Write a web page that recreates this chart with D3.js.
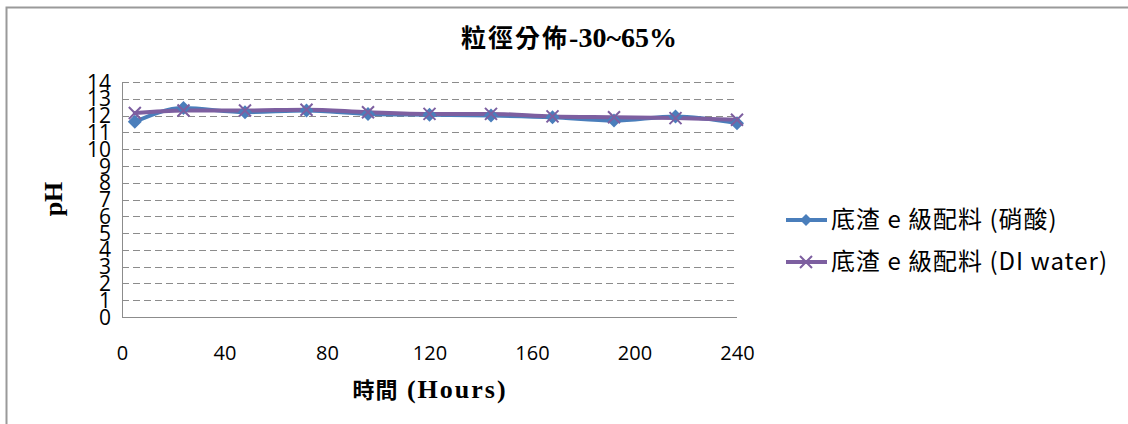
<!DOCTYPE html>
<html><head><meta charset="utf-8">
<script src="https://cdn.jsdelivr.net/npm/d3@7"></script>
<style>body{margin:0;background:#fff}svg{display:block}</style>
</head><body>
<script>
const hours = [5, 24, 48, 72, 96, 120, 144, 168, 192, 216, 240];
const phNitric = [11.63, 12.45, 12.2, 12.3, 12.1, 12.05, 12.0, 11.9, 11.7, 11.95, 11.55];
const phDI = [12.15, 12.3, 12.3, 12.35, 12.2, 12.1, 12.1, 11.95, 11.9, 11.85, 11.75];
const xTicks = [0, 40, 80, 120, 160, 200, 240];
const yTicks = [0,1,2,3,4,5,6,7,8,9,10,11,12,13,14];
const seriesNames = ["底渣 e 級配料 (硝酸)", "底渣 e 級配料 (DI water)"];
const colors = ["#4A7EBB", "#7D5FA0"];

const W = 1128, H = 424;
const svg = d3.select("body").append("svg").attr("width", W).attr("height", H);

// outer frame
svg.append("path").attr("d", `M6.5,${H} V7.5 H${W}`).attr("fill","none").attr("stroke","#9a9a9a").attr("stroke-width",2);

const x = d3.scaleLinear().domain([0,240]).range([122,737]);
const y = d3.scaleLinear().domain([0,14]).range([317,82]);

// gridlines
svg.append("g").selectAll("line").data(yTicks.filter(d=>d>0)).join("line")
  .attr("x1",122).attr("x2",737).attr("y1",d=>Math.round(y(d))+0.5).attr("y2",d=>Math.round(y(d))+0.5)
  .attr("stroke","#8c8c8c").attr("stroke-width",1).attr("stroke-dasharray","7,4");

// axes lines
svg.append("line").attr("x1",122.5).attr("x2",122.5).attr("y1",82).attr("y2",317).attr("stroke","#8c8c8c");
svg.append("line").attr("x1",122).attr("x2",737).attr("y1",317.5).attr("y2",317.5).attr("stroke","#8c8c8c");

const tickFont = "'Open Sans','Liberation Sans',sans-serif";
// y tick labels
const yAxis = d3.axisLeft(y).tickValues(yTicks).tickSize(0).tickPadding(11);
const gy = svg.append("g").attr("transform","translate(122,0)").call(yAxis);
gy.select(".domain").remove();
gy.selectAll("text").attr("font-family",tickFont).attr("font-size",21).attr("fill","#000").attr("dy","0.34em");

// x tick labels
const xAxis = d3.axisBottom(x).tickValues(xTicks).tickSize(0).tickPadding(29);
const gx = svg.append("g").attr("transform","translate(0,317)").call(xAxis);
gx.select(".domain").remove();
gx.selectAll("text").attr("font-family",tickFont).attr("font-size",20).attr("fill","#000");

// lines
const data = [phNitric, phDI];
const line = d3.line().x((d,i)=>x(hours[i])).y(d=>y(d)).curve(d3.curveMonotoneX);
data.forEach((vals,k)=>{
  svg.append("path").datum(vals).attr("d",line).attr("fill","none")
    .attr("stroke",colors[k]).attr("stroke-width",4).attr("stroke-linejoin","round").attr("stroke-linecap","round");
});
function diamond(g,cx,cy,s,c){
  g.append("path").attr("d",`M${cx},${cy-s} L${cx+s},${cy} L${cx},${cy+s} L${cx-s},${cy} Z`).attr("fill",c);
}
function cross(g,cx,cy,s,c){
  g.append("path").attr("d",`M${cx-s},${cy-s} L${cx+s},${cy+s} M${cx-s},${cy+s} L${cx+s},${cy-s}`)
    .attr("stroke",c).attr("stroke-width",2).attr("fill","none");
}
const mk = svg.append("g");
phNitric.forEach((v,i)=>diamond(mk,x(hours[i]),y(v),7,colors[0]));
phDI.forEach((v,i)=>cross(mk,x(hours[i]),y(v),6,colors[1]));

// title
const t = svg.append("text").attr("x",569).attr("y",47).attr("text-anchor","middle")
  .attr("font-family","'Liberation Serif','Noto Sans CJK TC',serif").attr("font-weight","bold");
t.append("tspan").attr("font-size",25).attr("font-family","'Noto Sans CJK TC',sans-serif").attr("letter-spacing",2).text("粒徑分佈");
t.append("tspan").attr("font-size",28).text("-30~65%");
// y title
svg.append("text").attr("transform","translate(62,199) rotate(-90)").attr("text-anchor","middle")
  .attr("font-family","'Liberation Serif',serif").attr("font-weight","bold").attr("font-size",26).text("pH");
// x title
const xt = svg.append("text").attr("x",430).attr("y",398).attr("text-anchor","middle")
  .attr("font-family","'Liberation Serif','Noto Sans CJK TC',serif").attr("font-weight","bold");
xt.append("tspan").attr("font-size",22).attr("font-family","'Noto Sans CJK TC',sans-serif").attr("letter-spacing",1).text("時間");
xt.append("tspan").attr("font-size",26).attr("letter-spacing",2).text(" (Hours)");

// legend
const lg = svg.append("g");
[0,1].forEach(k=>{
  const ly = 220 + k*42;
  lg.append("line").attr("x1",786).attr("x2",827).attr("y1",ly).attr("y2",ly).attr("stroke",colors[k]).attr("stroke-width",4);
  if(k===0) diamond(lg,806,ly,6,colors[0]); else cross(lg,806,ly,6,colors[1]);
  lg.append("text").attr("x",831).attr("y",ly).attr("dy","0.35em")
    .attr("font-family","'Noto Sans CJK TC','Open Sans',sans-serif").attr("font-size",24).attr("letter-spacing",1).text(seriesNames[k]);
});
</script>
</body></html>
